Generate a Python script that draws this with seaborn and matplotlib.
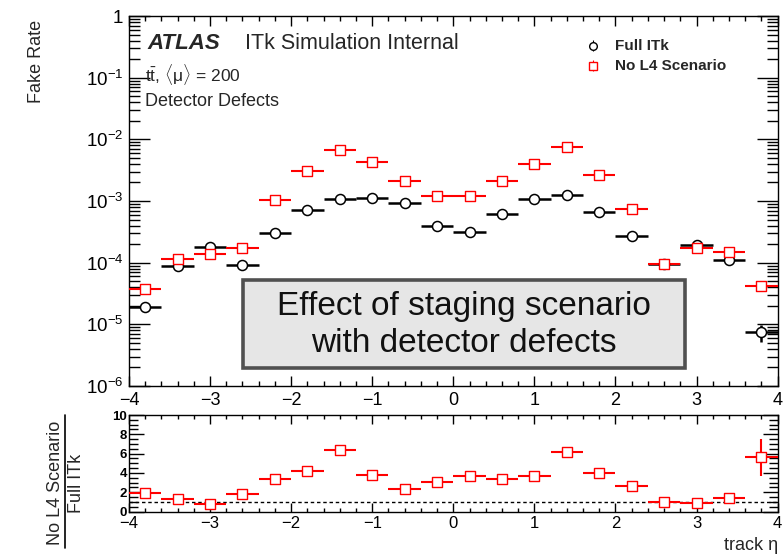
import numpy as np
import pandas as pd
import matplotlib
matplotlib.use("Agg")
import matplotlib.pyplot as plt
import seaborn as sns
from matplotlib.ticker import (FixedLocator, FuncFormatter, MultipleLocator,
                               LogLocator, NullFormatter)
from matplotlib.patches import Rectangle
from matplotlib.lines import Line2D

# Track-eta bins (centres, half width 0.2)
eta_centers = [-3.8, -3.4, -3.0, -2.6, -2.2, -1.8, -1.4, -1.0, -0.6, -0.2,
               0.2, 0.6, 1.0, 1.4, 1.8, 2.2, 2.6, 3.0, 3.4, 3.8]
bin_half_width = 0.2

# Fake rate, full ITk layout
fake_full = [1.9e-5, 8.9e-5, 1.78e-4, 9.2e-5, 3.05e-4, 7.2e-4, 1.06e-3, 1.14e-3,
             9.2e-4, 3.9e-4, 3.2e-4, 6.2e-4, 1.08e-3, 1.24e-3, 6.6e-4, 2.75e-4,
             9.5e-5, 1.9e-4, 1.1e-4, 7.5e-6]
fake_full_err = [3e-6, 6e-6, 1e-5, 6e-6, 1e-5, 1.5e-5, 2e-5, 2e-5, 2e-5, 1.2e-5,
                 1e-5, 1.5e-5, 2e-5, 2e-5, 1.5e-5, 1e-5, 6e-6, 1e-5, 8e-6, 2.4e-6]

# Fake rate, staging scenario without layer 4
fake_nol4 = [3.7e-5, 1.13e-4, 1.36e-4, 1.7e-4, 1.04e-3, 3.05e-3, 6.8e-3, 4.3e-3,
             2.1e-3, 1.2e-3, 1.19e-3, 2.1e-3, 4.0e-3, 7.6e-3, 2.6e-3, 7.3e-4,
             9.7e-5, 1.7e-4, 1.5e-4, 4.2e-5]
fake_nol4_err = [4e-6, 8e-6, 9e-6, 1e-5, 3e-5, 5e-5, 8e-5, 6e-5, 4e-5, 3e-5,
                 3e-5, 4e-5, 6e-5, 8e-5, 5e-5, 2.5e-5, 7e-6, 1e-5, 1e-5, 5e-6]

x_ticks = [-4, -3, -2, -1, 0, 1, 2, 3, 4]
ratio_ticks = [0, 2, 4, 6, 8, 10]

df = pd.DataFrame({
    "eta": eta_centers,
    "full": fake_full,
    "full_err": fake_full_err,
    "nol4": fake_nol4,
    "nol4_err": fake_nol4_err,
})
df["ratio"] = df["nol4"] / df["full"]
df["ratio_err"] = df["ratio"] * np.sqrt((df["full_err"] / df["full"]) ** 2 +
                                        (df["nol4_err"] / df["nol4"]) ** 2)

sns.set_theme(style="ticks")
plt.rcParams["font.family"] = ["Liberation Sans", "DejaVu Sans"]
plt.rcParams["mathtext.fontset"] = "custom"
plt.rcParams["mathtext.rm"] = "Liberation Sans"
plt.rcParams["mathtext.it"] = "Liberation Sans:italic"
plt.rcParams["mathtext.bf"] = "Liberation Sans:bold"
plt.rcParams["axes.edgecolor"] = "black"
plt.rcParams["axes.linewidth"] = 1.0
plt.rcParams["xtick.color"] = "black"
plt.rcParams["ytick.color"] = "black"

RED = "#ff0000"
fig = plt.figure(figsize=(7.84, 5.54), dpi=100)
ax = fig.add_axes([0.1645, 0.3032, 0.8274, 0.6679])
rax = fig.add_axes([0.1645, 0.0767, 0.8274, 0.1742])

# ---- upper panel: fake rate ----
ax.set_yscale("log")
ax.errorbar(df["eta"], df["full"], xerr=bin_half_width, yerr=df["full_err"],
            fmt="none", ecolor="black", elinewidth=1.8, capsize=0, zorder=2)
ax.errorbar(df["eta"], df["nol4"], xerr=bin_half_width, yerr=df["nol4_err"],
            fmt="none", ecolor=RED, elinewidth=1.5, capsize=0, zorder=3)
sns.scatterplot(data=df, x="eta", y="full", marker="o", s=52, color="white",
                edgecolor="black", linewidth=1.1, ax=ax, zorder=4, legend=False)
sns.scatterplot(data=df, x="eta", y="nol4", marker="s", s=55, color="white",
                edgecolor=RED, linewidth=1.0, ax=ax, zorder=5, legend=False)

ax.set_xlim(-4, 4)
ax.set_ylim(1e-6, 1)
ax.set_xlabel("")
ax.set_ylabel("")
ax.xaxis.set_major_locator(FixedLocator(x_ticks))
ax.xaxis.set_minor_locator(MultipleLocator(0.2))
ax.yaxis.set_major_locator(LogLocator(base=10, numticks=10))
ax.yaxis.set_minor_locator(LogLocator(base=10, subs=np.arange(2, 10), numticks=20))
ax.yaxis.set_minor_formatter(NullFormatter())


def log_label(v, _pos):
    e = int(round(np.log10(v)))
    if e == 0:
        return "1"
    return r"$\mathdefault{10^{%d}}$" % e


ax.yaxis.set_major_formatter(FuncFormatter(log_label))
ax.tick_params(which="both", direction="in", top=True, right=True, width=1.0)
ax.tick_params(axis="x", which="major", length=7, labelsize=13, pad=4)
ax.tick_params(axis="x", which="minor", length=3.5)
ax.tick_params(axis="y", which="major", length=15, labelsize=13.5, pad=4)
ax.tick_params(axis="y", which="minor", length=8)

ax.text(0.028, 0.927, "ATLAS", transform=ax.transAxes, fontsize=16,
        fontweight="bold", fontstyle="italic", va="center", ha="left")
ax.text(0.179, 0.927, "ITk Simulation Internal", transform=ax.transAxes,
        fontsize=15.5, va="center", ha="left")
ax.text(0.025, 0.841, r"$\mathrm{t}\bar{\mathrm{t}}$, $\langle\mathrm{\mu}\rangle$ = 200",
        transform=ax.transAxes, fontsize=12.5, va="center", ha="left")
ax.text(0.025, 0.770, "Detector Defects", transform=ax.transAxes,
        fontsize=13, va="center", ha="left")

# legend
ax.errorbar([0.715], [0.920], yerr=[0.014], fmt="o", ms=5.5, mfc="white",
            mec="black", mew=1.0, ecolor="black", elinewidth=0.8,
            transform=ax.transAxes, clip_on=False, zorder=6)
ax.errorbar([0.715], [0.866], yerr=[0.014], fmt="s", ms=6, mfc="white",
            mec=RED, mew=1.0, ecolor=RED, elinewidth=0.8,
            transform=ax.transAxes, clip_on=False, zorder=6)
ax.text(0.749, 0.920, "Full ITk", transform=ax.transAxes, fontsize=11,
        fontweight="bold", va="center", ha="left")
ax.text(0.749, 0.866, "No L4 Scenario", transform=ax.transAxes, fontsize=11,
        fontweight="bold", va="center", ha="left")

# annotation box
ax.add_patch(Rectangle((0.176, 0.049), 0.681, 0.237, transform=ax.transAxes,
                       facecolor="#e6e6e6", edgecolor="#505050", lw=2.6,
                       zorder=7))
ax.text(0.516, 0.165, "Effect of staging scenario\nwith detector defects",
        transform=ax.transAxes, fontsize=24, color="#111111", ha="center",
        va="center", linespacing=1.23, zorder=8)

# ---- lower panel: ratio ----
rax.axhline(1.0, color="black", lw=1.0, ls=(0, (2.5, 2.0)), zorder=1)
rax.errorbar(df["eta"], df["ratio"], xerr=bin_half_width, yerr=df["ratio_err"],
             fmt="none", ecolor=RED, elinewidth=1.5, capsize=0, zorder=3)
sns.scatterplot(data=df, x="eta", y="ratio", marker="s", s=55, color="white",
                edgecolor=RED, linewidth=1.0, ax=rax, zorder=5, legend=False)
rax.set_xlim(-4, 4)
rax.set_ylim(0, 10)
rax.set_xlabel("")
rax.set_ylabel("")
rax.xaxis.set_major_locator(FixedLocator(x_ticks))
rax.xaxis.set_minor_locator(MultipleLocator(0.2))
rax.yaxis.set_major_locator(FixedLocator(ratio_ticks))
rax.yaxis.set_minor_locator(MultipleLocator(0.5))
rax.tick_params(which="both", direction="in", top=True, right=True, width=1.0)
rax.tick_params(axis="x", which="major", length=6.5, labelsize=12, pad=3)
rax.tick_params(axis="x", which="minor", length=3.2)
rax.tick_params(axis="y", which="major", length=11, labelsize=9.5, pad=1.5)
rax.tick_params(axis="y", which="minor", length=6.5)
for lbl in rax.get_yticklabels():
    lbl.set_fontweight("bold")

# axis titles
fig.text(0.0468, 0.964, "Fake Rate", rotation=90, fontsize=13,
         ha="center", va="top")
fig.text(0.0710, 0.128, "No L4 Scenario", rotation=90, fontsize=13,
         ha="center", va="center")
fig.add_artist(Line2D([0.0829, 0.0829], [0.0108, 0.251], color="black",
                      lw=1.2, transform=fig.transFigure))
fig.text(0.0978, 0.128, "Full ITk", rotation=90, fontsize=13,
         ha="center", va="center")
fig.text(0.992, 0.016, "track \u03b7", fontsize=13, ha="right", va="center")

fig.savefig("out.png", dpi=100)
